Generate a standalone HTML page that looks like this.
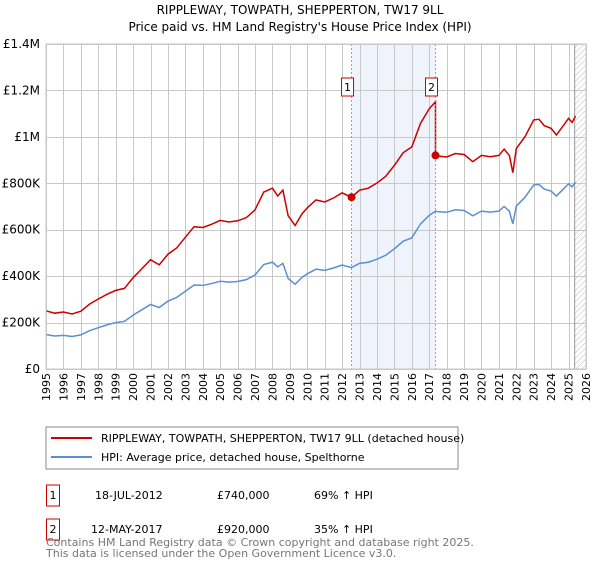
<!DOCTYPE html>
<html><head><meta charset="utf-8"><style>
body{margin:0;background:#fff;font-family:"Liberation Sans","DejaVu Sans",sans-serif;}
svg text{font-family:"DejaVu Sans","Liberation Sans",sans-serif;}
</style></head><body>
<svg width="600" height="560" xmlns="http://www.w3.org/2000/svg">
<defs><pattern id="hatch" width="4" height="4" patternUnits="userSpaceOnUse" patternTransform="rotate(45)"><line x1="0" y1="0" x2="0" y2="4" stroke="#bbb" stroke-width="1"/></pattern></defs>
<text x="300" y="14" text-anchor="middle" font-size="12">RIPPLEWAY, TOWPATH, SHEPPERTON, TW17 9LL</text>
<text x="300" y="31" text-anchor="middle" font-size="12">Price paid vs. HM Land Registry's House Price Index (HPI)</text>
<g id="plot"></g>
<g id="legend">
<rect x="46" y="427" width="412" height="42" fill="#fff" stroke="#888"/>
<line x1="51" y1="438" x2="92" y2="438" stroke="#cc0000" stroke-width="2"/>
<text x="101" y="442" font-size="11">RIPPLEWAY, TOWPATH, SHEPPERTON, TW17 9LL (detached house)</text>
<line x1="51" y1="457" x2="92" y2="457" stroke="#5b8fd4" stroke-width="2"/>
<text x="101" y="461" font-size="11">HPI: Average price, detached house, Spelthorne</text>
</g>
<g font-size="11">
<rect x="46.5" y="485" width="13" height="21" fill="none" stroke="#cc0000"/>
<text x="53" y="499" text-anchor="middle">1</text>
<text x="95" y="499">18-JUL-2012</text><text x="217" y="499">£740,000</text><text x="314" y="499">69% ↑ HPI</text>
<rect x="46.5" y="519" width="13" height="21" fill="none" stroke="#cc0000"/>
<text x="53" y="533" text-anchor="middle">2</text>
<text x="91" y="533">12-MAY-2017</text><text x="217" y="533">£920,000</text><text x="314" y="533">35% ↑ HPI</text>
</g>
<text x="46" y="546" font-size="11" fill="#777">Contains HM Land Registry data © Crown copyright and database right 2025.</text>
<text x="46" y="557" font-size="11" fill="#777">This data is licensed under the Open Government Licence v3.0.</text>
</svg>
<script>
const yearTicks=[1995,1996,1997,1998,1999,2000,2001,2002,2003,2004,2005,2006,2007,2008,2009,2010,2011,2012,2013,2014,2015,2016,2017,2018,2019,2020,2021,2022,2023,2024,2025,2026];
const yTickValues=[0,200000,400000,600000,800000,1000000,1200000,1400000];
const yTickLabels=["£0","£200K","£400K","£600K","£800K","£1M","£1.2M","£1.4M"];
const hpiDates=[1995,1995.5,1996,1996.5,1997,1997.5,1998,1998.5,1999,1999.5,2000,2000.5,2001,2001.5,2002,2002.5,2003,2003.5,2004,2004.5,2005,2005.5,2006,2006.5,2007,2007.5,2008,2008.3,2008.6,2008.9,2009.3,2009.7,2010,2010.5,2011,2011.5,2012,2012.54,2013,2013.5,2014,2014.5,2015,2015.5,2016,2016.5,2017,2017.36,2017.5,2018,2018.5,2019,2019.5,2020,2020.5,2021,2021.3,2021.6,2021.8,2022,2022.5,2023,2023.3,2023.6,2024,2024.3,2024.7,2025,2025.2,2025.4];
const hpiValues=[148000,142000,145000,140000,147000,165000,178000,190000,200000,205000,232000,255000,278000,265000,292000,308000,335000,362000,360000,368000,378000,374000,377000,385000,405000,450000,460000,440000,455000,390000,365000,395000,410000,430000,425000,435000,448000,437000,455000,460000,473000,490000,518000,550000,565000,625000,662000,680000,678000,675000,686000,683000,660000,680000,676000,680000,700000,680000,625000,702000,740000,793000,795000,775000,766000,745000,775000,798000,785000,805000];
const saleDates=[2012.54,2017.36];
const salePrices=[740000,920000];
const saleLabels=["1","2"];

const NS="http://www.w3.org/2000/svg";
const L=46,R=586,T=44,B=369,X0=1995,X1=2026,YMAX=1400000;
const sx=d=>L+(d-X0)/(X1-X0)*(R-L);
const sy=v=>B-v/YMAX*(B-T);
const plot=document.getElementById('plot');
function mk(tag,attrs,parent){const e=document.createElementNS(NS,tag);for(const k in attrs)e.setAttribute(k,attrs[k]);(parent||plot).appendChild(e);return e;}
function hpiAt(d){for(let i=0;i<hpiDates.length-1;i++){if(d>=hpiDates[i]&&d<=hpiDates[i+1]){const t=(d-hpiDates[i])/(hpiDates[i+1]-hpiDates[i]);return hpiValues[i]+t*(hpiValues[i+1]-hpiValues[i]);}}return hpiValues[hpiValues.length-1];}

const shade=mk('rect',{x:sx(saleDates[0]),y:T,width:sx(saleDates[1])-sx(saleDates[0]),height:B-T,fill:'#eef3fc'});


const hat=mk('rect',{x:sx(2025.35),y:T,width:R-sx(2025.35),height:B-T,fill:'url(#hatch)'});


yearTicks.forEach(y=>{
 const gx=Math.round(sx(y))+0.5;
 const g=mk('line',{x1:gx,x2:gx,y1:T,y2:B,stroke:'#c8c8c8','stroke-width':1});
 
 
 const t=mk('text',{x:0,y:0,'font-size':11,'text-anchor':'end',transform:`translate(${sx(y)+4},${B+4}) rotate(-90)`});
 t.textContent=y;
 
 
});
yTickValues.forEach((v,i)=>{
 const gy=Math.round(sy(v))+0.5;
 const g=mk('line',{x1:L,x2:R,y1:gy,y2:gy,stroke:'#c8c8c8','stroke-width':1});
 
 
 const t=mk('text',{x:L-6,y:sy(v)+4,'font-size':12,'text-anchor':'end'});
 t.textContent=yTickLabels[i];
 
 
});
mk('line',{x1:sx(2025.35),x2:sx(2025.35),y1:T,y2:B,stroke:'#999','stroke-width':1});
const hp=mk('polyline',{points:hpiDates.map((d,i)=>sx(d)+','+sy(hpiValues[i])).join(' '),fill:'none',stroke:'#5b8fd4','stroke-width':1.5});


const pts=[];
hpiDates.forEach((d,i)=>{
 const idx=d<saleDates[1]?0:1;
 const f=salePrices[idx]/hpiAt(saleDates[idx]);
 pts.push([d,hpiValues[i]*f]);
});
const k=pts.findIndex(p=>p[0]>=saleDates[1]);
pts.splice(k,0,[saleDates[1],hpiAt(saleDates[1])*salePrices[0]/hpiAt(saleDates[0])]);
const pl=mk('polyline',{points:pts.map(p=>sx(p[0])+','+sy(p[1])).join(' '),fill:'none',stroke:'#cc0000','stroke-width':1.5});


saleDates.forEach((d,i)=>{
 const v=mk('line',{x1:sx(d),x2:sx(d),y1:T,y2:B,stroke:'#e66','stroke-width':0.8,'stroke-dasharray':'2,2'});
 
 
 const c=mk('circle',{cx:sx(d),cy:sy(salePrices[i]),r:4,fill:'#cc0000'});
 
 
 const b=mk('rect',{x:sx(d)-10,y:78,width:12,height:18,fill:'#fff',stroke:'#cc0000'});
 
 
 const t=mk('text',{x:sx(d)-4,y:91,'font-size':11,'text-anchor':'middle'});
 t.textContent=saleLabels[i];
 
 
});
mk('rect',{x:L,y:T,width:R-L,height:B-T,fill:'none',stroke:'#c8c8c8'});
</script>
</body></html>
